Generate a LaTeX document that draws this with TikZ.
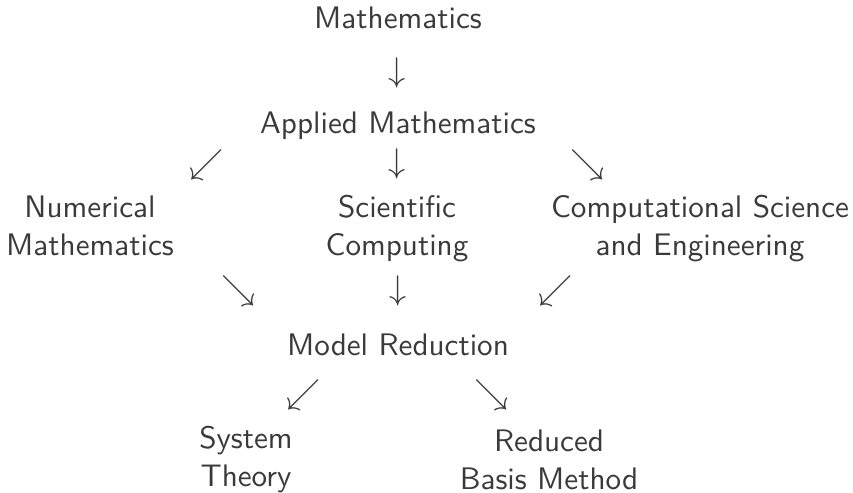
\documentclass[tikz,border=0pt]{standalone}
\usepackage{tikz}
\usetikzlibrary{positioning}

\definecolor{ink}{HTML}{3A3A3A}

\begin{document}
\begin{tikzpicture}[x=0.35pt, y=-0.35pt, semithick]

    \tikzstyle{field} = [inner sep=0pt, anchor=base, align=center, text=ink, font=\sffamily\fontsize{10.9}{13}\selectfont]
    \tikzstyle{arr} = [inner sep=0pt, text=ink, font=\fontsize{12}{13}\selectfont]

    \useasboundingbox (0,0) rectangle (853,492);

    % the fields, top to bottom (base is the last line)
    \node (math)     [field] at (398,28)  {Mathematics};
    \node (applied)  [field] at (398,133) {Applied Mathematics};

    \node (numerics) [field] at (90,255)  {Numerical\\Mathematics};
    \node (scicomp)  [field] at (397,255) {Scientific\\Computing};
    \node (cse)      [field] at (700,255) {Computational Science\\and Engineering};

    \node (mor)      [field] at (398,355) {Model Reduction};

    \node (systems)  [field] at (246,486) {System\\Theory};
    \node (rbm)      [field] at (549,489) {Reduced\\Basis Method};

    % arrows between the rows
    \node (a1)  [arr] at (397,73)  {$\downarrow$};

    \node (a2l) [arr] at (207,165) {$\swarrow$};
    \node (a2m) [arr] at (397,164) {$\downarrow$};
    \node (a2r) [arr] at (588,165) {$\searrow$};

    \node (a3l) [arr] at (239,291) {$\searrow$};
    \node (a3m) [arr] at (398,291) {$\downarrow$};
    \node (a3r) [arr] at (556,291) {$\swarrow$};

    \node (a4l) [arr] at (304,395) {$\swarrow$};
    \node (a4r) [arr] at (492,395) {$\searrow$};

\end{tikzpicture}
\end{document}
